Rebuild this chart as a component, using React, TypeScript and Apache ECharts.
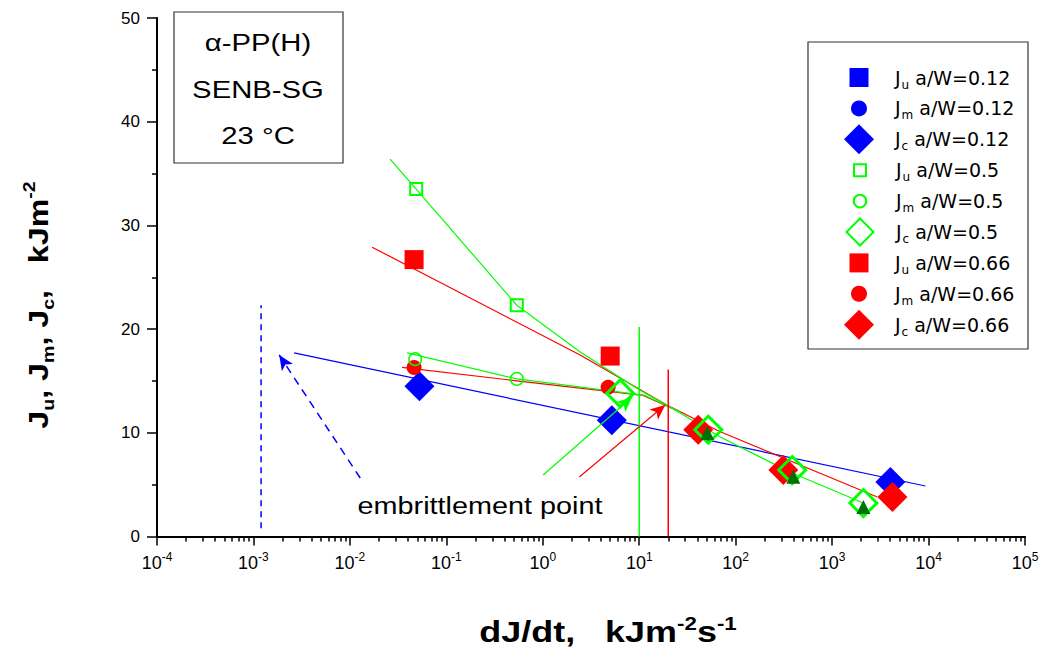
import React, { useEffect, useRef } from "react";
import * as echarts from "echarts";

type Pt = [number, number];

const FONT = "'Liberation Sans', Arial, Helvetica, sans-serif";
const LFONT = "'DejaVu Sans', 'Liberation Sans', Arial, sans-serif";

// ---- legend names ----
const NAMES = [
  "Ju a/W=0.12", "Jm a/W=0.12", "Jc a/W=0.12", "Ju a/W=0.5", "Jm a/W=0.5",
  "Jc a/W=0.5", "Ju a/W=0.66", "Jm a/W=0.66", "Jc a/W=0.66",
];

// ---- measured points (dJ/dt [kJ m^-2 s^-1], J [kJ m^-2]) ----
const ju012: Pt[] = [];
const jm012: Pt[] = [];
const jc012: Pt[] = [[0.0526, 14.5], [5.2, 11.2], [4020, 5.26]];
const ju05: Pt[] = [[0.0487, 33.5], [0.538, 22.3]];
const jm05: Pt[] = [[0.0475, 17.1], [0.538, 15.2]];
const jc05: Pt[] = [[6.35, 13.8], [52, 10.3], [386, 6.41], [2110, 3.23]];
const ju066: Pt[] = [[0.0463, 26.7], [5.0, 17.4]];
const jm066: Pt[] = [[0.0463, 16.3], [4.76, 14.4]];
const jc066: Pt[] = [[40.9, 10.3], [312, 6.41], [4220, 3.81]];
const extraTri: Pt[] = [[50.7, 9.98], [396, 5.77], [2110, 2.84]];

// ---- fitted curves ----
const fitBlue: Pt[] = [[0.00264, 17.7], [9270, 4.87]];
const fitGreenJu: Pt[] = [
  [0.0261, 36.4], [0.0487, 33.5], [0.538, 22.3], [2.44, 17.8], [10.2, 14.1],
  [19.1, 12.7], [69.2, 9.6], [368, 6.2], [2110, 3.23],
];
const fitRedJu: Pt[] = [[0.017, 27.9], [2.44, 17.5], [19.1, 12.7], [69.2, 10.1], [2940, 3.81]];
const fitGreenJm: Pt[] = [[0.0392, 17.7], [0.538, 15.2], [11.5, 13.6], [26.6, 12.0]];
const fitRedJm: Pt[] = [[0.0347, 16.3], [11.0, 13.6], [26.6, 12.0]];

// ---- vertical markers ----
const vGreen: Pt[] = [[10, 0], [10, 20.2]];
const vRed: Pt[] = [[20, 0], [20, 16.1]];
const vBlue: Pt[] = [[0.0012, 0.8], [0.0012, 22.3]];

// ---- arrows ----
const arrowGreen: Pt[] = [[1.01, 5.93], [8.45, 13.45]];
const arrowRed: Pt[] = [[2.39, 5.74], [18.6, 12.68]];
const arrowBlue: Pt[] = [[0.0128, 5.64], [0.00185, 17.5]];

// ---- axes ----
const xMin = 1e-4;
const xMax = 1e5;
const yTicks = [0, 10, 20, 30, 40, 50];
const decades = [-4, -3, -2, -1, 0, 1, 2, 3, 4];
const minorMult = [2, 3, 4, 5, 6, 7, 8, 9];
const minorTickDepth = -0.5; // minor tick end, in y data units below the axis

const BLUE = "#0000ff";
const GREEN = "#00ff00";
const RED = "#ff0000";
const DKGREEN = "#007000";
const CLEAR = "rgba(255,255,255,0)";

export default function App() {
  const ref = useRef<HTMLDivElement>(null);

  useEffect(() => {
    if (!ref.current) return;
    const chart = echarts.init(ref.current, undefined, { renderer: "svg" });

    const minorTicks: number[] = [];
    decades.forEach((d) => minorMult.forEach((m) => minorTicks.push(m * Math.pow(10, d))));

    const lineSeries = (name: string, data: Pt[], color: string, extra: any = {}) => ({
      type: "line", name, data, symbol: "none", silent: true, z: 1,
      lineStyle: { color, width: 1.2, ...(extra.lineStyle || {}) },
      ...(extra.markLine ? { markLine: extra.markLine } : {}),
    });

    const arrow = (pts: Pt[], color: string, type: any = "solid", width = 1.2) => ({
      silent: true, symbol: ["none", "arrow"], symbolSize: [10, 15], label: { show: false },
      emphasis: { disabled: true }, lineStyle: { color, width, type }, itemStyle: { color },
      data: [[{ coord: pts[0] }, { coord: pts[1] }]],
    });

    const scatter = (name: string, data: Pt[], symbol: string, size: number, itemStyle: any, z = 3) => ({
      type: "scatter", name, data, symbol, symbolSize: size, z,
      itemStyle: { opacity: 1, ...itemStyle }, silent: true,
    });

    const legendSpec = [19, 16, 30, 12, 12.5, 27, 19, 16, 30];

    const option: any = {
      animation: false,
      grid: { left: 157, right: 17, top: 18, bottom: 112.5, containLabel: false },
      xAxis: [
        {
          type: "log", logBase: 10, min: xMin, max: xMax, splitNumber: 9, position: "bottom",
          axisLine: { show: true, onZero: false, lineStyle: { color: "#000", width: 2 } },
          axisTick: { show: true, length: 9, lineStyle: { color: "#000", width: 1.5 } },
          splitLine: { show: false },
          axisLabel: {
            margin: 14, color: "#000", fontSize: 18, fontFamily: FONT, lineHeight: 24,
            formatter: (v: number) => `{b|10}{s|${Math.round(Math.log10(v))}}`,
            rich: {
              b: { fontSize: 18, fontFamily: FONT, color: "#000", lineHeight: 24 },
              s: { fontSize: 12, fontFamily: FONT, color: "#000", lineHeight: 12, verticalAlign: "top" },
            },
          },
        },
        {
          type: "log", logBase: 10, min: xMin, max: xMax, position: "bottom", z: 5,
          axisLine: { show: false, onZero: false },
          axisTick: { show: true, length: 5, customValues: minorTicks, lineStyle: { color: "#000", width: 1.5 } },
          axisLabel: { show: false },
          splitLine: { show: false },
        },
      ],
      yAxis: {
        type: "value", min: yTicks[0], max: yTicks[yTicks.length - 1], interval: 10,
        axisLine: { show: true, lineStyle: { color: "#000", width: 2 } },
        axisTick: { show: true, length: 10, lineStyle: { color: "#000", width: 1.5 } },
        minorTick: { show: true, splitNumber: 2, length: 5, lineStyle: { color: "#000", width: 1.5 } },
        splitLine: { show: false },
        minorSplitLine: { show: false },
        axisLabel: { margin: 17, color: "#000", fontSize: 17, fontFamily: FONT },
      },
      legend: legendSpec.map((w, i) => ({
        data: [NAMES[i]], orient: "vertical", left: 859 - w / 2, top: 77.5 + i * 30.9 - 15,
        itemWidth: w, itemHeight: w, padding: 0, selectedMode: false,
        formatter: (n: string) => `J{sub|${n[1]}} ${n.slice(3)}`,
        textStyle: {
          fontFamily: LFONT, fontSize: 19, color: "#000", lineHeight: 30,
          padding: [0, 0, 0, 31 - w / 2],
          rich: { sub: { fontSize: 12, fontFamily: LFONT, color: "#000", lineHeight: 30, padding: [14, 0, 0, 1] } },
        },
      })),
      series: [
        lineSeries("fitBlue", fitBlue, BLUE, { markLine: arrow(arrowBlue, BLUE, [8, 6], 1.5) }),
        lineSeries("fitRedJu", fitRedJu, RED),
        lineSeries("fitRedJm", fitRedJm, RED, { markLine: arrow(arrowRed, RED) }),
        lineSeries("fitGreenJu", fitGreenJu, GREEN),
        lineSeries("fitGreenJm", fitGreenJm, GREEN, { markLine: arrow(arrowGreen, GREEN) }),
        lineSeries("vGreen", vGreen, GREEN, { lineStyle: { width: 1.5 } }),
        lineSeries("vRed", vRed, RED, { lineStyle: { width: 1.5 } }),
        lineSeries("vBlue", vBlue, BLUE, { lineStyle: { width: 1.5, type: [6, 5] } }),
        {
          type: "line", name: "minorTickMarks", data: [], clip: false, silent: true, symbol: "none",
          markLine: {
            silent: true, symbol: ["none", "none"], label: { show: false }, emphasis: { disabled: true },
            lineStyle: { color: "#000", width: 1.5, type: "solid" },
            data: minorTicks.map((x) => [{ coord: [x, 0] }, { coord: [x, minorTickDepth] }]),
          },
        },
        scatter(NAMES[0], ju012, "rect", 19, { color: BLUE }),
        scatter(NAMES[1], jm012, "circle", 16, { color: BLUE }),
        scatter(NAMES[2], jc012, "diamond", 30, { color: BLUE }),
        scatter(NAMES[6], ju066, "rect", 19, { color: RED }, 4),
        scatter(NAMES[7], jm066, "circle", 15, { color: RED }, 4),
        scatter(NAMES[8], jc066, "diamond", 30, { color: RED }, 4),
        scatter(NAMES[3], ju05, "rect", 12, { color: CLEAR, borderColor: GREEN, borderWidth: 2 }, 5),
        scatter(NAMES[4], jm05, "circle", 12.5, { color: CLEAR, borderColor: GREEN, borderWidth: 1.5 }, 5),
        scatter(NAMES[5], jc05, "diamond", 27, { color: CLEAR, borderColor: GREEN, borderWidth: 3 }, 5),
        scatter("extra", extraTri, "triangle", 14, { color: DKGREEN }, 6),
      ],
      graphic: [
        { type: "rect", shape: { x: 808, y: 42, width: 220, height: 307 }, style: { fill: "none", stroke: "#333", lineWidth: 1.2 }, silent: true },
        { type: "rect", shape: { x: 174, y: 12, width: 169, height: 151 }, style: { fill: "none", stroke: "#333", lineWidth: 1.2 }, silent: true },
        ...["α-PP(H)", "SENB-SG", "23 °C"].map((t, i) => ({
          type: "text", x: 258, y: [43, 90, 136][i], scaleX: 1.22, silent: true,
          style: { text: t, fontFamily: FONT, fontSize: 24, fill: "#000", textAlign: "center", textVerticalAlign: "middle" },
        })),
        {
          type: "text", x: 480, y: 506, scaleX: 1.2, silent: true,
          style: { text: "embrittlement point", fontFamily: FONT, fontSize: 24, fill: "#000", textAlign: "center", textVerticalAlign: "middle" },
        },
        {
          type: "text", x: 608, y: 632, scaleX: 1.24, silent: true,
          style: {
            text: "{b|dJ/dt,   kJm}{s|-2}{b|s}{s|-1}", textAlign: "center", textVerticalAlign: "middle",
            rich: {
              b: { fontSize: 29, fontWeight: "bold", fontFamily: FONT, fill: "#000", lineHeight: 34 },
              s: { fontSize: 18, fontWeight: "bold", fontFamily: FONT, fill: "#000", lineHeight: 17, verticalAlign: "top" },
            },
          },
        },
        {
          type: "text", x: 38, y: 305, rotation: Math.PI / 2, scaleX: 1.15, silent: true,
          style: {
            text: "{b|J}{d|u}{b|, J}{d|m}{b|, J}{d|c}{b|,   kJm}{s|-2}", textAlign: "center", textVerticalAlign: "middle",
            rich: {
              b: { fontSize: 28, fontWeight: "bold", fontFamily: FONT, fill: "#000", lineHeight: 36 },
              d: { fontSize: 17, fontWeight: "bold", fontFamily: FONT, fill: "#000", lineHeight: 17, verticalAlign: "bottom" },
              s: { fontSize: 17, fontWeight: "bold", fontFamily: FONT, fill: "#000", lineHeight: 17, verticalAlign: "top" },
            },
          },
        },
      ],
    };

    chart.setOption(option);
    return () => chart.dispose();
  }, []);

  return <div ref={ref} style={{ width: 1042, height: 649, position: "absolute", left: 0, top: 0, background: "#fff" }} />;
}
